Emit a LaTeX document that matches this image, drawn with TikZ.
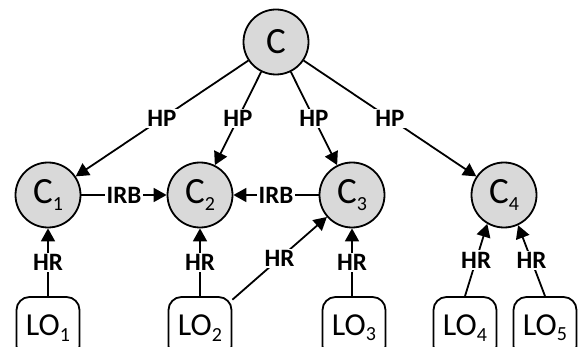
\documentclass[tikz,border=0pt]{standalone}
\usepackage{fontspec}
\setmainfont{Carlito}
\usetikzlibrary{arrows.meta}

\newcommand{\lsub}[1]{\raisebox{-0.35ex}{\fontsize{20}{20}\selectfont #1}}

\begin{document}
\begin{tikzpicture}[x=1pt,y=-1pt,
    conc/.style={circle,draw,line width=1.8pt,fill=black!15,minimum size=65pt,inner sep=0pt,font=\fontsize{37}{37}\selectfont},
    lobj/.style={draw,line width=1.8pt,rounded corners=13pt,minimum width=63pt,minimum height=62pt,inner sep=0pt,font=\fontsize{32}{32}\selectfont},
    rel/.style={line width=1.8pt,-{Triangle[length=13pt,width=14pt]}},
    lbl/.style={fill=white,inner sep=1.5pt,font=\bfseries\fontsize{25}{25}\selectfont}]
    \useasboundingbox (0,0) rectangle (580,347);

    % concepts
    \node[conc] (c) at (276,42) {C};
    \node[conc] (c1) at (48,195) {C\lsub{1}};
    \node[conc] (c2) at (200,195) {C\lsub{2}};
    \node[conc] (c3) at (352,195) {C\lsub{3}};
    \node[conc] (c4) at (504,195) {C\lsub{4}};

    % learning objects
    \node[lobj] (lo1) at (48,328) {LO\lsub{1}};
    \node[lobj] (lo2) at (200,328) {LO\lsub{2}};
    \node[lobj] (lo3) at (354,328) {LO\lsub{3}};
    \node[lobj] (lo4) at (465,328) {LO\lsub{4}};
    \node[lobj] (lo5) at (545,328) {LO\lsub{5}};

    % HP
    \draw[rel] (c) -- node[lbl] {HP} (c1);
    \draw[rel] (c) -- node[lbl] {HP} (c2);
    \draw[rel] (c) -- node[lbl] {HP} (c3);
    \draw[rel] (c) -- node[lbl] {HP} (c4);

    % IRB
    \draw[rel] (c1) -- node[lbl] {IRB} (c2);
    \draw[rel] (c3) -- node[lbl] {IRB} (c2);

    % HR
    \draw[rel] (lo1) -- node[lbl] {HR} (c1);
    \draw[rel] (lo2) -- node[lbl] {HR} (c2);
    \draw[rel] (lo2) -- node[lbl] {HR} (c3);
    \draw[rel] (lo3.north -| c3) -- node[lbl] {HR} (c3);
    \draw[rel] (lo4.north) -- node[lbl] {HR} (c4.240);
    \draw[rel] (lo5.north) -- node[lbl] {HR} (c4.295);
\end{tikzpicture}
\end{document}
